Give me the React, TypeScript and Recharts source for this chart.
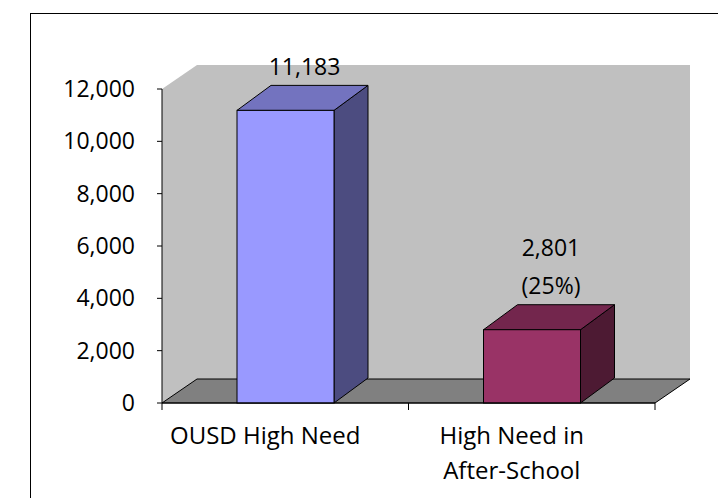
import React from 'react';
import { BarChart, Bar, XAxis, YAxis, ReferenceArea } from 'recharts';

// ---- data ----
const categories = ['OUSD High Need', 'High Need in\nAfter-School'];
const values = [11183, 2801];
const valueLabels = ['11,183', '2,801'];
const percentLabels = ['', '(25%)'];
const yTicks = [0, 2000, 4000, 6000, 8000, 10000, 12000];

const data = categories.map((name, i) => ({
  name,
  value: values[i],
  label: valueLabels[i],
  pct: percentLabels[i],
}));

// ---- styles ----
const FONT = '"Open Sans", sans-serif';
const frontColors = ['#9999FF', '#993366'];
const topColors = ['#7373BF', '#73264D'];
const sideColors = ['#4C4C80', '#4D1A33'];
const BAR_DX = 34;
const BAR_DY = 25;
const WALL_DX = 35;
const WALL_DY = 24;

const Bar3D = (props: any) => {
  const { x, y, width, height, index = 0, payload } = props;
  const i = index ?? 0;
  const top = `M${x},${y} L${x + BAR_DX},${y - BAR_DY} L${x + width + BAR_DX},${y - BAR_DY} L${x + width},${y} Z`;
  const side = `M${x + width},${y} L${x + width + BAR_DX},${y - BAR_DY} L${x + width + BAR_DX},${y + height - BAR_DY} L${x + width},${y + height} Z`;
  const lines: string[] = [payload?.label, payload?.pct].filter((s: string) => s);
  const cx = x + width / 2 + 19;
  const lastY = y - BAR_DY - 19;
  return (
    <g>
      <path d={side} fill={sideColors[i]} stroke="#000" strokeWidth={1} strokeLinejoin="round" />
      <path d={top} fill={topColors[i]} stroke="#000" strokeWidth={1} strokeLinejoin="round" />
      <rect x={x} y={y} width={width} height={height} fill={frontColors[i]} stroke="#000" strokeWidth={1} />
      {lines.map((t, k) => (
        <text
          key={k}
          x={cx}
          y={lastY - (lines.length - 1 - k) * 38}
          dy="0.355em"
          textAnchor="middle"
          fontFamily={FONT}
          fontSize={23}
          fill="#000"
        >
          {t}
        </text>
      ))}
    </g>
  );
};

const WallFloor = (props: any) => {
  const { x, y, width, height } = props;
  const bottom = y + height;
  const wall = `M${x},${bottom} L${x},${y} L${x + WALL_DX},${y - WALL_DY} L${x + width + WALL_DX},${y - WALL_DY} L${x + width + WALL_DX},${bottom - WALL_DY} L${x + width},${bottom} Z`;
  const floor = `M${x},${bottom} L${x + WALL_DX},${bottom - WALL_DY} L${x + width + WALL_DX},${bottom - WALL_DY} L${x + width},${bottom} Z`;
  const tickXs = [x, x + width / 2, x + width];
  return (
    <g>
      <path d={wall} fill="#C0C0C0" stroke="none" />
      <path d={floor} fill="#808080" stroke="#000" strokeWidth={1} />
      {tickXs.map((tx, k) => (
        <line key={k} x1={tx} x2={tx} y1={bottom} y2={bottom + 7} stroke="#000" strokeWidth={1} />
      ))}
    </g>
  );
};

const CategoryTick = (props: any) => {
  const { x, y, payload } = props;
  const lines = String(payload.value).split('\n');
  return (
    <g>
      {lines.map((l, k) => (
        <text
          key={k}
          x={x - 20}
          y={y + 32 + k * 35.5}
          dy="0.355em"
          textAnchor="middle"
          fontFamily={FONT}
          fontSize={24}
          fill="#000"
        >
          {l}
        </text>
      ))}
    </g>
  );
};

export default function App() {
  return (
    <div style={{ position: 'absolute', left: 0, top: 0, width: 718, height: 498, background: '#fff', overflow: 'hidden' }}>
      <div
        style={{
          position: 'absolute',
          left: 30,
          top: 13,
          width: 700,
          height: 500,
          borderLeft: '1px solid #000',
          borderTop: '1px solid #000',
        }}
      />
      <div style={{ position: 'absolute', left: 0, top: 0 }}>
        <BarChart
          width={718}
          height={498}
          data={data}
          margin={{ top: 89, right: 63, bottom: 65, left: 102 }}
        >
          <ReferenceArea y1={0} y2={12000} shape={<WallFloor />} ifOverflow="visible" />
          <XAxis
            dataKey="name"
            height={30}
            axisLine={{ stroke: '#000' }}
            tickLine={false}
            tickSize={0}
            tickMargin={0}
            interval={0}
            tick={<CategoryTick />}
          />
          <YAxis
            width={60}
            domain={[0, 12000]}
            ticks={yTicks}
            interval={0}
            axisLine={{ stroke: '#000' }}
            tickLine={{ stroke: '#000' }}
            tickSize={5}
            tickMargin={22}
            tick={{ fontSize: 23, fill: '#000', fontFamily: FONT }}
            tickFormatter={(v: number) => v.toLocaleString('en-US')}
          />
          <Bar dataKey="value" barSize={97} shape={<Bar3D />} isAnimationActive={false} />
        </BarChart>
      </div>
    </div>
  );
}
